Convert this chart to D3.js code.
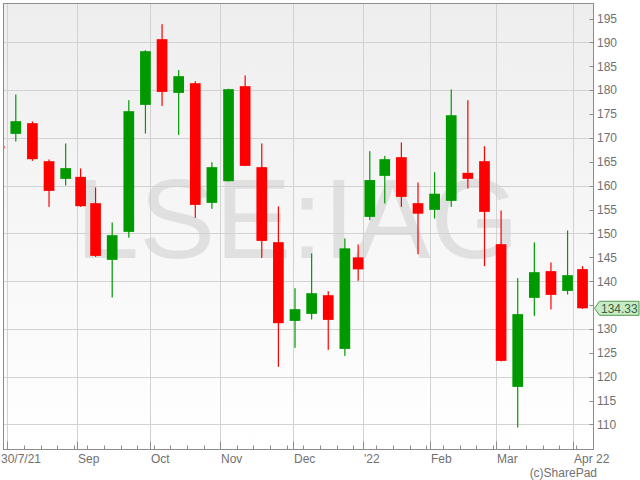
<!DOCTYPE html>
<html><head><meta charset="utf-8">
<script src="https://cdn.jsdelivr.net/npm/d3@7/dist/d3.min.js"></script>
<style>
body{margin:0;background:#fff}
svg{display:block}
text{font-family:"Liberation Sans",Arial,Helvetica,sans-serif}
</style>
</head><body>
<svg id="chart" width="640" height="480"></svg>
<script>
// ---- data (weekly candles, LSE:IAG) ----
const weekStarts = ["2021-07-26","2021-08-02","2021-08-09","2021-08-16","2021-08-23","2021-08-30","2021-09-06","2021-09-13","2021-09-20","2021-09-27",
  "2021-10-04","2021-10-11","2021-10-18","2021-10-25","2021-11-01","2021-11-08","2021-11-15","2021-11-22","2021-11-29","2021-12-06",
  "2021-12-13","2021-12-20","2021-12-27","2022-01-03","2022-01-10","2022-01-17","2022-01-24","2022-01-31","2022-02-07","2022-02-14",
  "2022-02-21","2022-02-28","2022-03-07","2022-03-14","2022-03-21","2022-03-28","2022-04-04"];
const openP  = [168.3,170.85,173.09,165.13,161.43,161.85,156.34,144.47,150.33,176.92,190.68,179.43,181.46,156.4,160.94,180.84,163.88,148.17,131.69,133.16,137.07,125.83,144.99,153.47,162.06,165.97,156.34,154.94,156.82,162.69,165.13,147.75,117.87,136.51,142.11,137.97,142.53];
const highP  = [168.5,179.1,173.45,165.49,168.84,163.6,159.63,152.3,177.91,188.37,193.82,184.19,181.88,164.92,180.3,183.08,168.84,155.65,138.54,145.81,137.91,148.95,147.69,167.23,166.24,169.05,160.67,162.83,180.15,177.91,168.27,154.81,140.63,148.11,143.92,150.62,143.15];
const lowP   = [167.6,169.26,165.2,155.56,160.04,155.56,145.09,136.59,149.11,170.93,176.71,170.64,153.26,155.15,160.9,164.1,144.88,122.06,126.04,131.99,125.62,124.36,140.07,152.78,156.28,155.56,145.66,153.13,155.56,159.42,143.15,123.2,109.37,132.74,134.08,137.22,134.2];
const closeP = [167.8,173.51,165.55,158.91,163.67,155.71,145.3,149.64,175.6,188.16,179.64,182.93,155.98,163.88,180.21,164.15,148.44,131.21,134.14,137.49,131.9,146.88,142.48,161.18,165.55,157.66,154.14,158.32,174.76,161.43,154.52,123.32,133.1,141.89,137.14,141.26,134.33];
const holidays = ["2021-08-30","2021-12-27","2021-12-28","2022-01-03"];
const dataEnd = "2022-04-07";
const monthStarts = ["2021-08-02","2021-09-01","2021-10-01","2021-11-01","2021-12-01","2022-01-04","2022-02-01","2022-03-01","2022-04-01"];
const monthLabels = ["30/7/21","Sep","Oct","Nov","Dec","'22","Feb","Mar","Apr 22"];
const yTicks = [110,115,120,125,130,135,140,145,150,155,160,165,170,175,180,185,190,195];
const yGrid = [110,120,130,140,150,160,170,180,190];
const lastPrice = 134.33;
const watermark = "LSE:IAG";
const credit = "(c)SharePad";

// ---- trading-day index ----
const parse = d3.timeParse("%Y-%m-%d"), fmt = d3.timeFormat("%Y-%m-%d");
const days = d3.timeDay.range(parse("2021-07-26"), d3.timeDay.offset(parse(dataEnd), 1))
  .filter(d => d.getDay() % 6 !== 0 && !holidays.includes(fmt(d)));
const idx = new Map(days.map((d, i) => [fmt(d), i]));

const weeks = weekStarts.map((ws, i) => {
  const s = parse(ws), e = d3.timeDay.offset(s, 7);
  const ids = days.filter(d => d >= s && d < e).map(d => idx.get(fmt(d)));
  return {first: d3.min(ids), last: d3.max(ids), o: openP[i], h: highP[i], l: lowP[i], c: closeP[i]};
});

// ---- layout ----
const L = 3.5, R = 593.5, T = 3.5, B = 449.5;
const svg = d3.select("#chart");
const x = d3.scaleLinear().domain([3.8, 181.3]).range([L, R]);
const y = d3.scaleLinear().domain([104.76, 198.15]).range([B, T]);

const defs = svg.append("defs");
const grad = defs.append("linearGradient").attr("id", "bg").attr("x1", 0).attr("y1", 0).attr("x2", 0).attr("y2", 1);
grad.append("stop").attr("offset", "0%").attr("stop-color", "#eeeeee");
grad.append("stop").attr("offset", "100%").attr("stop-color", "#ffffff");
defs.append("clipPath").attr("id", "clip").append("rect").attr("x", L).attr("y", T).attr("width", R - L).attr("height", B - T);

svg.append("rect").attr("x", L).attr("y", T).attr("width", R - L).attr("height", B - T).attr("fill", "url(#bg)");

// watermark
svg.append("text").attr("x", (L + R) / 2 - 1).attr("y", 258).attr("text-anchor", "middle")
  .attr("font-size", 114).attr("fill", "#e0e0e0").text(watermark);

const plot = svg.append("g").attr("clip-path", "url(#clip)");

// grid
plot.selectAll(".hg").data(yGrid).enter().append("line")
  .attr("x1", L).attr("x2", R).attr("y1", d => Math.round(y(d)) + 0.5).attr("y2", d => Math.round(y(d)) + 0.5)
  .attr("stroke", "#d2d2d2").attr("stroke-width", 1);
const monthX = monthStarts.map(m => Math.round(x(idx.get(m))) + 0.5);
plot.selectAll(".vg").data(monthX).enter().append("line")
  .attr("x1", d => d).attr("x2", d => d).attr("y1", T).attr("y2", B)
  .attr("stroke", "#d2d2d2").attr("stroke-width", 1);

// candles
const bw = 10.7;
const col = d => d.c >= d.o ? "#009900" : "#ff0000";
const cx = d => x((d.first + d.last + 1) / 2);
const g = plot.selectAll(".cd").data(weeks).enter().append("g");
g.append("rect").attr("x", d => cx(d) - 0.6).attr("width", 1.2)
  .attr("y", d => y(d.h)).attr("height", d => Math.max(0.5, y(d.l) - y(d.h))).attr("fill", col);
g.append("rect").attr("x", d => cx(d) - bw / 2).attr("width", bw)
  .attr("y", d => y(Math.max(d.o, d.c))).attr("height", d => Math.max(1, Math.abs(y(d.o) - y(d.c)))).attr("fill", col);

// frame
svg.append("rect").attr("x", L).attr("y", T).attr("width", R - L).attr("height", B - T)
  .attr("fill", "none").attr("stroke", "#8c8c8c").attr("stroke-width", 1);

// x ticks
const weekTickX = weeks.map(w => x(w.first)).filter(v => v > L && v < R).map(v => Math.round(v) + 0.5);
svg.selectAll(".mt").data(weekTickX).enter().append("line")
  .attr("x1", d => d).attr("x2", d => d).attr("y1", B - 4).attr("y2", B).attr("stroke", "#8c8c8c");
svg.selectAll(".Mt").data(monthX).enter().append("line")
  .attr("x1", d => d).attr("x2", d => d).attr("y1", B - 8).attr("y2", B).attr("stroke", "#8c8c8c");
svg.selectAll(".xl").data(monthLabels).enter().append("text")
  .attr("x", (d, i) => i === 0 ? 1 : monthX[i] + 0.5).attr("y", 462.5)
  .attr("font-size", 12).attr("fill", "#707070").text(d => d);

// y ticks (labels hidden behind the price tag are not drawn)
const py = y(lastPrice);
svg.selectAll(".yt").data(yTicks).enter().append("line")
  .attr("x1", R - 4).attr("x2", R).attr("y1", d => Math.round(y(d)) + 0.5).attr("y2", d => Math.round(y(d)) + 0.5)
  .attr("stroke", "#8c8c8c");
svg.selectAll(".yl").data(yTicks.filter(v => Math.abs(y(v) - py) > 12)).enter().append("text")
  .attr("x", 597).attr("y", d => y(d) + 4.3)
  .attr("font-size", 12).attr("fill", "#707070").text(d => d);

// last price tag
svg.append("path")
  .attr("d", `M${R + 1},${py} L${R + 6},${py - 7} L639,${py - 7} L639,${py + 7} L${R + 6},${py + 7} Z`)
  .attr("fill", "#c8ecc8").attr("stroke", "#4f9a4f").attr("stroke-width", 1);
svg.append("text").attr("x", 601).attr("y", py + 4.3).attr("font-size", 12).attr("fill", "#3f5f3f").text(lastPrice.toFixed(2));

// credit
svg.append("text").attr("x", 597).attr("y", 477).attr("text-anchor", "end")
  .attr("font-size", 12).attr("fill", "#707070").text(credit);
</script>
</body></html>
